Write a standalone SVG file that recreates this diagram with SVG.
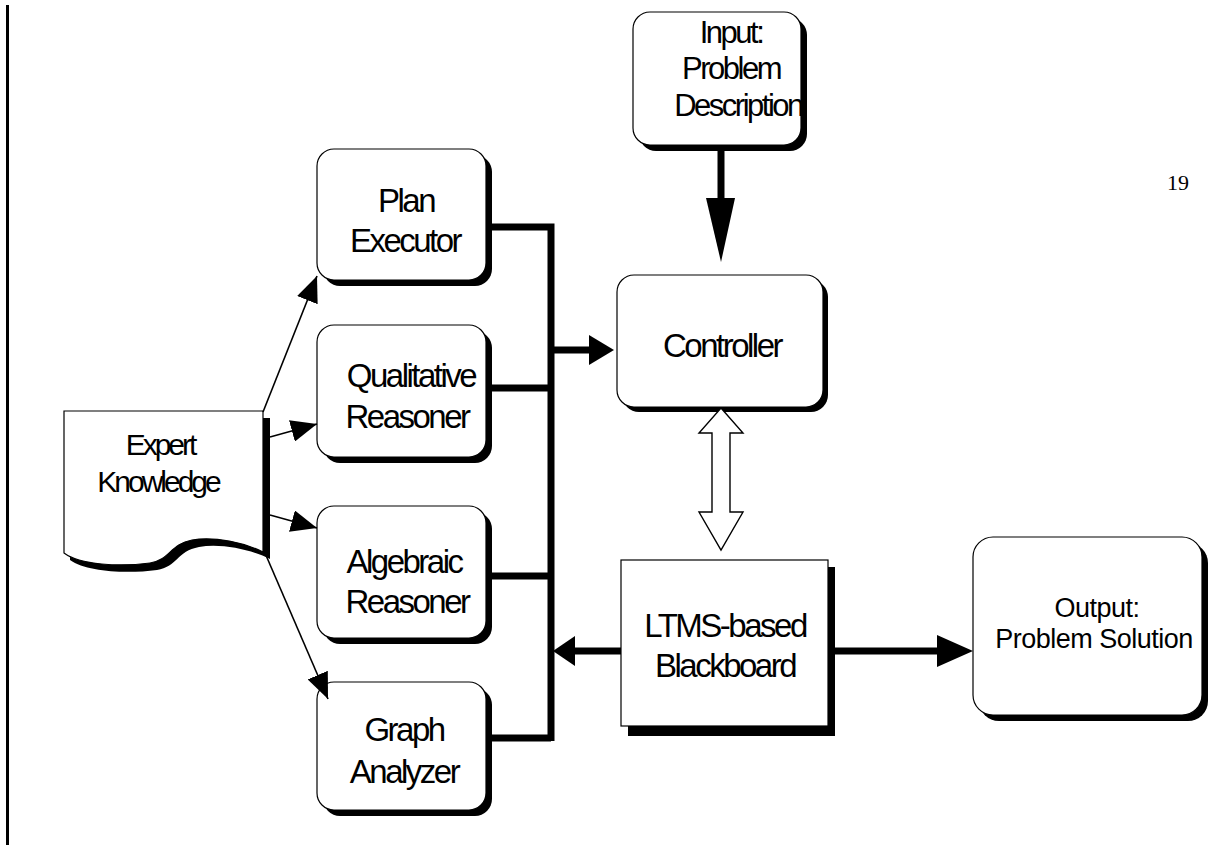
<svg xmlns="http://www.w3.org/2000/svg" width="1217" height="849" viewBox="0 0 1217 849">
<defs>
<style>
.box{fill:#fff;stroke:#000;stroke-width:1.2}
.sh{fill:#000}
.t{font-family:"Liberation Sans",Arial,sans-serif;font-size:33px;letter-spacing:-2.5px;text-anchor:middle;fill:#000}
.t28{font-size:31px}
.to{font-size:27px;letter-spacing:-0.5px}
.tx{font-size:30px;letter-spacing:-3px}
.bus{stroke:#000;stroke-width:7;fill:none}
.thin{stroke:#000;stroke-width:1.6;fill:none}
</style>
<marker id="ah" viewBox="0 0 26 22" refX="26" refY="11" markerWidth="26" markerHeight="22" markerUnits="userSpaceOnUse" orient="auto">
<path d="M0,0 L26,11 L0,22 Z" fill="#000"/>
</marker>
</defs>
<rect width="1217" height="849" fill="#fff"/>
<rect x="6" y="5" width="3" height="840" fill="#000"/>
<text x="1178" y="190" style="font-family:'Liberation Serif','Times New Roman',serif;font-size:22px" text-anchor="middle">19</text>

<g id="input">
<rect class="sh" x="639" y="18" width="168" height="133" rx="17"/>
<rect class="box" x="633" y="12" width="168" height="133" rx="17"/>
<text class="t t28" x="731" y="43">Input:</text>
<text class="t t28" x="731" y="79">Problem</text>
<text class="t t28" x="738" y="116">Description</text>
</g>

<g id="plan">
<rect class="sh" x="323" y="155" width="169" height="131" rx="17"/>
<rect class="box" x="317" y="149" width="169" height="131" rx="17"/>
<text class="t" x="406" y="212">Plan</text>
<text class="t" x="405" y="252">Executor</text>
</g>

<g id="qualitative">
<rect class="sh" x="323" y="331" width="169" height="132" rx="17"/>
<rect class="box" x="317" y="325" width="169" height="132" rx="17"/>
<text class="t" x="411" y="387">Qualitative</text>
<text class="t" x="407" y="428">Reasoner</text>
</g>

<g id="algebraic">
<rect class="sh" x="323" y="512" width="169" height="132" rx="17"/>
<rect class="box" x="317" y="506" width="169" height="132" rx="17"/>
<text class="t" x="404" y="573">Algebraic</text>
<text class="t" x="407" y="613">Reasoner</text>
</g>

<g id="graph">
<rect class="sh" x="323" y="688" width="169" height="128" rx="17"/>
<rect class="box" x="317" y="682" width="169" height="128" rx="17"/>
<text class="t" x="404" y="741">Graph</text>
<text class="t" x="404" y="783">Analyzer</text>
</g>

<g id="controller">
<rect class="sh" x="622" y="280" width="206" height="132" rx="17"/>
<rect class="box" x="617" y="275" width="206" height="132" rx="17"/>
<text class="t" x="722" y="357">Controller</text>
</g>

<g id="blackboard">
<rect class="sh" x="628" y="567" width="207" height="169"/>
<rect class="box" x="621" y="560" width="207" height="166"/>
<text class="t" x="725" y="637">LTMS-based</text>
<text class="t" x="725" y="677">Blackboard</text>
</g>

<g id="output">
<rect class="sh" x="979" y="543" width="229" height="178" rx="20"/>
<rect class="box" x="973" y="537" width="229" height="178" rx="20"/>
<text class="t to" x="1097" y="617">Output:</text>
<text class="t to" x="1094" y="648">Problem Solution</text>
</g>

<g id="expert">
<path class="sh" d="M70,418 H270 V559 C252,550 222,543 199,547 C177,551 177,567 157,570 C127,574 87,572 70,560 Z"/>
<path class="box" d="M64,411 H263 V552 C245,543 215,536 192,540 C170,544 170,560 150,563 C120,567 80,565 64,553 Z"/>
<text class="t tx" x="160" y="455">Expert</text>
<text class="t tx" x="158" y="492">Knowledge</text>
</g>

<g id="connectors">
<path class="bus" d="M486,227 H551 V741 M486,388 H551 M486,576 H551 M486,738 H551"/>
<path class="bus" d="M551,350 H591"/>
<path d="M589,335 L614,350 L589,365 Z" fill="#000"/>
<path class="bus" d="M721,145 V200"/>
<path d="M706,198 L721,262 L735,198 Z" fill="#000"/>
<path class="bus" d="M621,651 H572"/>
<path d="M575,636 L553,651 L575,666 Z" fill="#000"/>
<path class="bus" d="M835,651 H940"/>
<path d="M937,635 L973,651 L937,667 Z" fill="#000"/>
<path d="M721,408 L743,433 L730,433 L730,512 L743,512 L721,550 L699,512 L712,512 L712,433 L699,433 Z" fill="#fff" stroke="#000" stroke-width="1.4" stroke-linejoin="miter"/>
<line class="thin" x1="263" y1="412" x2="317" y2="276" marker-end="url(#ah)"/>
<line class="thin" x1="270" y1="437" x2="317" y2="424" marker-end="url(#ah)"/>
<line class="thin" x1="270" y1="515" x2="317" y2="528" marker-end="url(#ah)"/>
<line class="thin" x1="265" y1="553" x2="328" y2="699" marker-end="url(#ah)"/>
</g>
</svg>
